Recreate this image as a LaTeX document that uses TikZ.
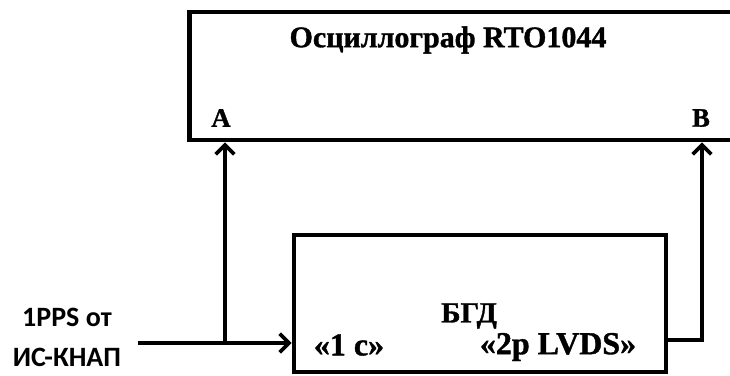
\documentclass[tikz,border=0pt]{standalone}
\usepackage{fontspec}
\setmainfont{Liberation Serif}[BoldFeatures={FakeBold=1.2}]
\newfontfamily\pinsans{Carlito}
\usepackage{tikz}
\usetikzlibrary{arrows.meta, positioning, calc}
\tikzset{
  blockbox/.style={draw, line width=3.4pt, inner sep=0pt},
  boxlabel/.style={font=\fontsize{20}{22}\selectfont\bfseries, inner sep=0pt},
  wire/.style={line width=2.8pt, -{Straight Barb[length=7pt, width=14pt]}},
}

\begin{document}
\begin{tikzpicture}[x=0.75pt, y=-0.75pt]
\useasboundingbox (0,0) rectangle (730,375);
% oscilloscope, its right side runs off the page
\node[blockbox, minimum width=428pt, minimum height=96pt] (osc) at (475,76) {};
\node[boxlabel, font=\fontsize{22.5}{24}\selectfont\bfseries] (osctitle) at (448,40) {Осциллограф RTO1044};
\node[boxlabel] (chA) at (221,118) {A};
\node[boxlabel] (chB) at (701,118) {B};
% generator unit
\node[blockbox, minimum width=279pt, minimum height=103pt] (bgd) at (480,303.5) {};
\node[boxlabel, font=\fontsize{22}{24}\selectfont\bfseries] (bgdname) at (469,316) {БГД};
\node[boxlabel, font=\fontsize{24}{26}\selectfont\bfseries] (inlabel) at (349,345) {«1 с»};
\node[boxlabel, font=\fontsize{24}{26}\selectfont\bfseries] (outlabel) at (558,347) {«2p LVDS»};
% 1PPS source
\node[font=\fontsize{21}{30}\selectfont\pinsans\bfseries, align=center, inner sep=0pt] (src) at (67,337) {1PPS от\\ИС-КНАП};
\coordinate (srcend) at (138,343);
\coordinate (split) at (225,343);
\coordinate (tap) at (702,340);
\draw[wire] (srcend) -- (srcend -| bgd.west);
\draw[wire] (split) -- (split |- osc.south);
\draw[wire] (tap -| bgd.east) -- (tap) -- (tap |- osc.south);
\end{tikzpicture}
\end{document}
